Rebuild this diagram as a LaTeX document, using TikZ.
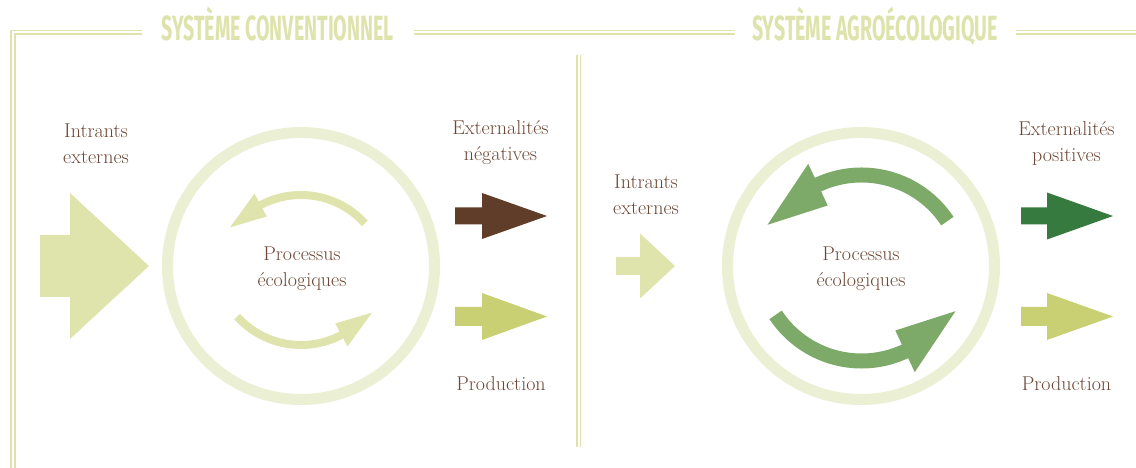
\documentclass[tikz,border=0pt]{standalone}
\usepackage{fontspec}
\usepackage{tikz}
\usetikzlibrary{positioning}
\newfontfamily\titlefont[FakeStretch=0.56]{Fira Sans}
\definecolor{framec}{RGB}{221,227,170}
\definecolor{ringc}{RGB}{235,239,212}
\definecolor{palec}{RGB}{223,228,173}
\definecolor{prodc}{RGB}{201,208,115}
\definecolor{brownc}{RGB}{95,61,41}
\definecolor{greenc}{RGB}{55,122,63}
\definecolor{midgreenc}{RGB}{125,170,104}
\definecolor{txtc}{RGB}{107,70,52}
% colour, tail x, head base x, tip x, centre y, shaft half, head half
\newcommand{\blockarr}[7]{\fill[#1] (#2,#5-#6) -- (#3,#5-#6) -- (#3,#5-#7) -- (#4,#5)
  -- (#3,#5+#7) -- (#3,#5+#6) -- (#2,#5+#6) -- cycle;}
% centre, colour, radius, width, start, head base, head half, tip angle, tip radius
\newcommand{\ringarr}[9]{\draw[#2,line width=#4] ([shift={({#5}:{#3})}]#1) arc[start angle=#5,end angle=#6+1,radius=#3];
  \fill[#2] ([shift={({#6}:{#3+#7})}]#1) -- ([shift={({#8}:{#9})}]#1) -- ([shift={({#6}:{#3-#7})}]#1) -- cycle;}

\begin{document}
\begin{tikzpicture}[x=1pt,y=1pt,
  lbl/.style={text=txtc,font=\fontsize{20}{26}\selectfont,align=center,inner sep=0pt},
  ttl/.style={text=framec,font=\titlefont\bfseries\fontsize{35}{36}\selectfont,inner sep=0pt},
  framerule/.style={draw=framec,line width=1.8pt}]
\useasboundingbox (0,0) rectangle (1136,468);
% frame
\draw[framerule] (142,437.5) -- (11,437.5) -- (11,0);
\draw[framerule] (142,434) -- (15,434) -- (15,0);
\draw[framerule] (414,437.5) -- (735,437.5) (1016,437.5) -- (1136,437.5);
\draw[framerule] (414,434) -- (735,434) (1016,434) -- (1136,434);
\draw[framerule] (577,413) -- (577,21);
\draw[framerule] (580.5,413) -- (580.5,21);
\node[ttl,anchor=base] (conv) at (277.5,427.5) {SYSTÈME CONVENTIONNEL};
\node[ttl,anchor=base] (agro) at (875,427.5) {SYSTÈME AGROÉCOLOGIQUE};
% conventional
\coordinate (lc) at (301,202);
\coordinate (lu) at (301,187);
\coordinate (ll) at (301,209);
\draw[ringc,line width=11pt] (lc) circle[radius=133.5];
\ringarr{lu}{palec}{86}{8pt}{42}{118}{13}{143}{89}
\ringarr{ll}{palec}{86}{8pt}{222}{298}{13}{323}{89}
\blockarr{palec}{40}{70}{149}{202}{31}{73}
\blockarr{brownc}{455}{482}{547}{252}{8.5}{23}
\blockarr{prodc}{455}{482}{547}{151.5}{9.5}{23.5}
\node[lbl] (inl) at (96,324) {Intrants\\externes};
\node[lbl] (procl) at (302,199) {Processus\\écologiques};
\node[lbl] (neg) at (500.5,325) {Externalités\\négatives};
\node[lbl] (prodl) at (501,84) {Production};
% agroecological
\coordinate (rc) at (861,202);
\coordinate (ru) at (861.5,190);
\coordinate (rl) at (861.5,210);
\draw[ringc,line width=11pt] (rc) circle[radius=133.5];
\ringarr{ru}{midgreenc}{103}{15pt}{33.5}{115}{23}{150.5}{108}
\ringarr{rl}{midgreenc}{103}{15pt}{213.5}{295}{23}{330.5}{108}
\blockarr{palec}{616}{640}{675}{202}{9}{32.5}
\blockarr{greenc}{1021}{1047}{1113}{252}{8.5}{23.5}
\blockarr{prodc}{1021}{1047}{1113}{151.5}{9.5}{23.5}
\node[lbl] (inr) at (646,273) {Intrants\\externes};
\node[lbl] (procr) at (861,199) {Processus\\écologiques};
\node[lbl] (pos) at (1066.5,325) {Externalités\\positives};
\node[lbl] (prodr) at (1066.5,84) {Production};
\end{tikzpicture}
\end{document}
